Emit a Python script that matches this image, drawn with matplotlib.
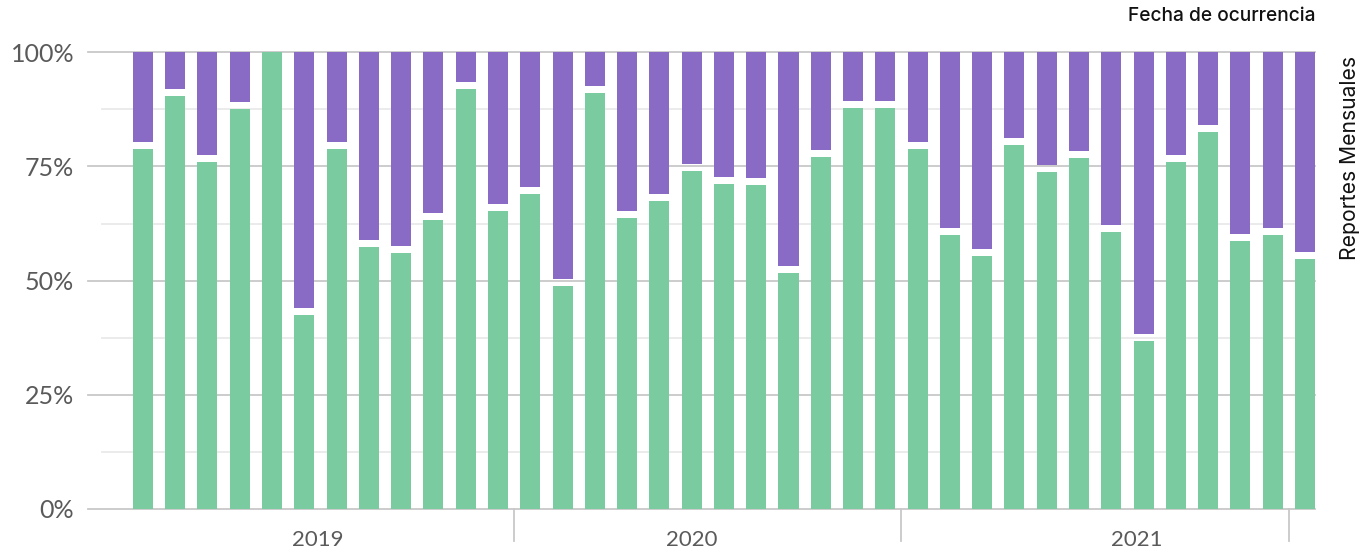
import matplotlib
matplotlib.use("Agg")
import matplotlib.pyplot as plt

# participacion mensual (%) de cada categoria, ene 2019 - ene 2022
verde = [79.6, 91.2, 76.8, 88.4, 100.0, 43.3, 79.6, 58.1, 56.9, 64.1, 92.7, 66.0,
         69.8, 49.6, 91.9, 64.5, 68.2, 74.8, 71.9, 71.7, 52.4, 77.8, 88.6, 88.6,
         79.6, 60.8, 56.2, 80.5, 74.6, 77.7, 61.5, 37.6, 76.8, 83.4, 59.5, 60.8, 55.5]
morado = [20.4, 8.8, 23.2, 11.6, 0.0, 56.7, 20.4, 41.9, 43.1, 35.9, 7.3, 34.0,
          30.2, 50.4, 8.1, 35.5, 31.8, 25.2, 28.1, 28.3, 47.6, 22.2, 11.4, 11.4,
          20.4, 39.2, 43.8, 19.5, 25.4, 22.3, 38.5, 62.4, 23.2, 16.6, 40.5, 39.2, 44.5]
anios = ["2019", "2020", "2021"]
pos_anios = [5.42, 17.0, 30.8]
cortes = [11.5, 23.5, 35.5]
yticks = [0, 25, 50, 75, 100]
ylabels = ["0%", "25%", "50%", "75%", "100%"]

VERDE = "#7acca0"
MORADO = "#896bc5"
GRIS = "#c8c8c8"
GRIS_CLARO = "#e9e9e9"

W, H = 1369, 551
fig = plt.figure(figsize=(W / 100, H / 100), dpi=100)
ax = fig.add_axes([88 / W, 42 / H, 1227 / W, 456.7 / H])

x = list(range(len(verde)))
gap = 0.77
alto_v = [v - gap if m > 0 else v for v, m in zip(verde, morado)]
ax.bar(x, alto_v, width=0.62, color=VERDE, zorder=2)
ax.bar(x, [m - gap if m > 0 else 0 for m in morado],
       bottom=[v + gap for v in verde], width=0.62, color=MORADO, zorder=2)

ax.set_xlim(-1.70, 36.31)
ax.set_ylim(0, 100)
for s in ax.spines.values():
    s.set_visible(False)

for y in yticks:
    ax.axhline(y, color=GRIS, lw=1.3, zorder=0, clip_on=False)
for y in [12.5, 37.5, 62.5, 87.5]:
    ax.axhline(y, xmin=14 / 1227, color=GRIS_CLARO, lw=1.3, zorder=0)

ax.set_xticks([])
ax.set_yticks(yticks)
ax.set_yticklabels(ylabels, family="Lato", fontsize=18, color="#5a5a5a")
ax.tick_params(axis="y", length=0, pad=10)

for c in cortes:
    ax.plot([c, c], [0, -6.9], color=GRIS, lw=1.3, clip_on=False, zorder=1)
for p, a in zip(pos_anios, anios):
    ax.text(p, -6.7, a, ha="center", va="center", family="Lato",
            fontsize=16, color="#5a5a5a")

fig.text(1316 / W, 1 - 16 / H, "Fecha de ocurrencia", ha="right", va="center",
         family="Inter", fontweight="medium", fontsize=13.8, color="#111111")
fig.text(1350 / W, 1 - 158 / H, "Reportes Mensuales", rotation=90, ha="center",
         va="center", family="Inter", fontsize=15.2, color="#111111")

fig.savefig("out.png", dpi=100)
